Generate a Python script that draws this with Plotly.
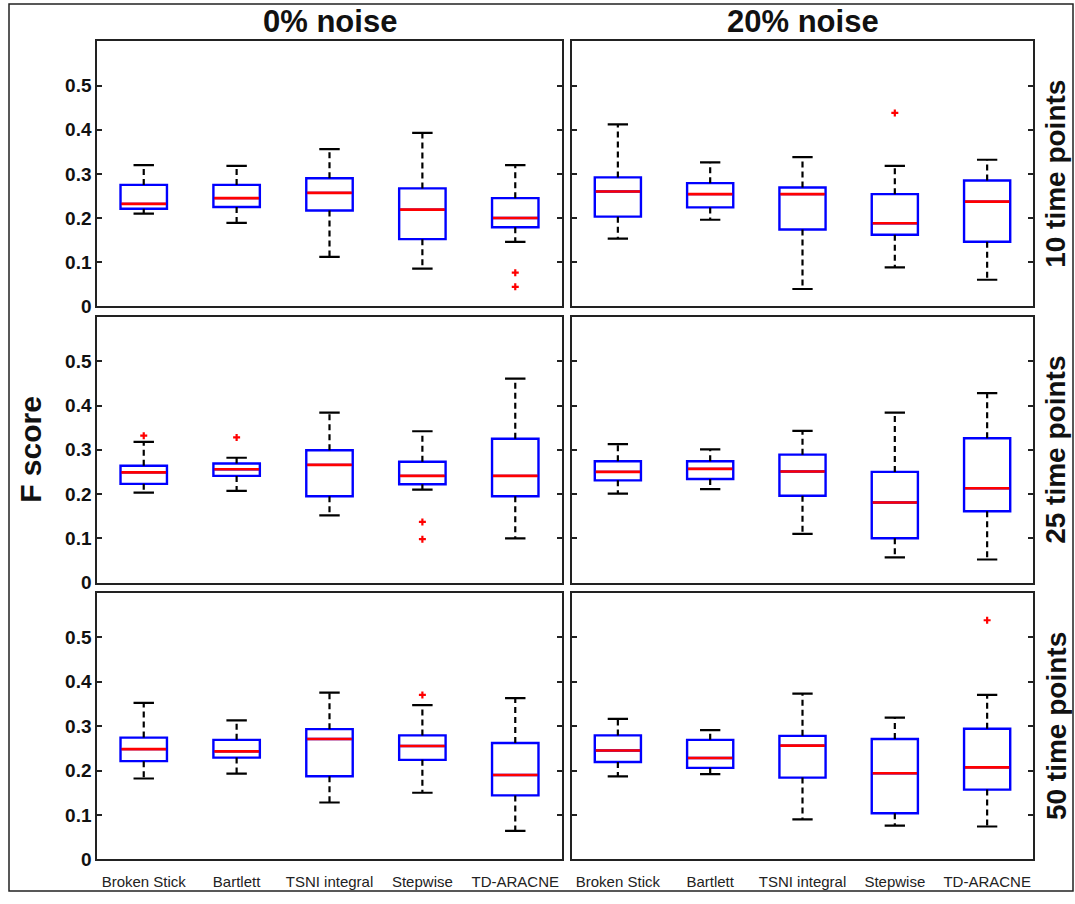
import plotly.graph_objects as go

# ---------------- data ----------------
methods = ["Broken Stick", "Bartlett", "TSNI integral", "Stepwise", "TD-ARACNE"]
noise_levels = ["0% noise", "20% noise"]
time_points = ["10 time points", "25 time points", "50 time points"]
y_ticks = [0, 0.1, 0.2, 0.3, 0.4, 0.5]
y_ticktext = ["0", "0.1", "0.2", "0.3", "0.4", "0.5"]

# 10 time points, 0% noise
p10_n0_low = [0.210, 0.189, 0.112, 0.085, 0.146]
p10_n0_q1 = [0.221, 0.225, 0.217, 0.152, 0.179]
p10_n0_med = [0.232, 0.245, 0.257, 0.219, 0.200]
p10_n0_q3 = [0.275, 0.275, 0.290, 0.267, 0.245]
p10_n0_high = [0.320, 0.318, 0.356, 0.393, 0.320]
p10_n0_out = [[], [], [], [], [0.076, 0.044]]

# 10 time points, 20% noise
p10_n20_low = [0.153, 0.196, 0.039, 0.088, 0.060]
p10_n20_q1 = [0.203, 0.224, 0.174, 0.162, 0.146]
p10_n20_med = [0.260, 0.254, 0.254, 0.188, 0.237]
p10_n20_q3 = [0.292, 0.279, 0.269, 0.254, 0.285]
p10_n20_high = [0.412, 0.326, 0.338, 0.318, 0.332]
p10_n20_out = [[], [], [], [0.438], []]

# 25 time points, 0% noise
p25_n0_low = [0.203, 0.207, 0.152, 0.210, 0.100]
p25_n0_q1 = [0.223, 0.241, 0.195, 0.222, 0.195]
p25_n0_med = [0.249, 0.256, 0.266, 0.241, 0.241]
p25_n0_q3 = [0.264, 0.269, 0.299, 0.273, 0.325]
p25_n0_high = [0.318, 0.282, 0.384, 0.342, 0.461]
p25_n0_out = [[0.332], [0.328], [], [0.137, 0.098], []]

# 25 time points, 20% noise
p25_n20_low = [0.201, 0.211, 0.110, 0.057, 0.052]
p25_n20_q1 = [0.231, 0.234, 0.196, 0.100, 0.161]
p25_n20_med = [0.250, 0.257, 0.251, 0.181, 0.213]
p25_n20_q3 = [0.274, 0.274, 0.289, 0.250, 0.326]
p25_n20_high = [0.313, 0.301, 0.343, 0.384, 0.428]
p25_n20_out = [[], [], [], [], []]

# 50 time points, 0% noise
p50_n0_low = [0.182, 0.193, 0.128, 0.150, 0.064]
p50_n0_q1 = [0.221, 0.229, 0.187, 0.224, 0.144]
p50_n0_med = [0.248, 0.243, 0.271, 0.255, 0.190]
p50_n0_q3 = [0.274, 0.269, 0.293, 0.279, 0.262]
p50_n0_high = [0.352, 0.313, 0.375, 0.347, 0.363]
p50_n0_out = [[], [], [], [0.370], []]

# 50 time points, 20% noise
p50_n20_low = [0.187, 0.192, 0.090, 0.076, 0.074]
p50_n20_q1 = [0.219, 0.206, 0.184, 0.104, 0.157]
p50_n20_med = [0.245, 0.228, 0.256, 0.194, 0.207]
p50_n20_q3 = [0.279, 0.269, 0.278, 0.271, 0.294]
p50_n20_high = [0.316, 0.291, 0.373, 0.319, 0.370]
p50_n20_out = [[], [], [], [], [0.538]]

panels = [
    (p10_n0_low, p10_n0_q1, p10_n0_med, p10_n0_q3, p10_n0_high, p10_n0_out),
    (p10_n20_low, p10_n20_q1, p10_n20_med, p10_n20_q3, p10_n20_high, p10_n20_out),
    (p25_n0_low, p25_n0_q1, p25_n0_med, p25_n0_q3, p25_n0_high, p25_n0_out),
    (p25_n20_low, p25_n20_q1, p25_n20_med, p25_n20_q3, p25_n20_high, p25_n20_out),
    (p50_n0_low, p50_n0_q1, p50_n0_med, p50_n0_q3, p50_n0_high, p50_n0_out),
    (p50_n20_low, p50_n20_q1, p50_n20_med, p50_n20_q3, p50_n20_high, p50_n20_out),
]

# ---------------- styling / layout ----------------
W, H = 1075, 904
BOX_W = 0.5
CAP_HALF = 0.11
MED_HALF = 0.24
x_domains = [[97.3 / W, 561.7 / W], [571.7 / W, 1033.3 / W]]
y_domains = [[1 - 310 / H, 1 - 42 / H], [1 - 589.7 / H, 1 - 321 / H], [1 - 870 / H, 1 - 600 / H]]
FONT = "Liberation Sans, Arial, sans-serif"

fig = go.Figure()
layout_axes = {}
pos = list(range(len(methods)))

for k, (low, q1, med, q3, high, outs) in enumerate(panels):
    row, col = divmod(k, 2)
    sfx = "" if k == 0 else str(k + 1)
    xa, ya = "x" + sfx, "y" + sfx

    # whiskers (dashed)
    wx, wy = [], []
    for i in pos:
        wx += [i, i, None, i, i, None]
        wy += [q3[i], high[i], None, q1[i], low[i], None]
    fig.add_trace(go.Scatter(x=wx, y=wy, mode="lines", xaxis=xa, yaxis=ya,
                             line=dict(color="black", width=2.2, dash="6px,4px"),
                             hoverinfo="skip", showlegend=False))
    # caps
    cx, cy = [], []
    for i in pos:
        cx += [i - CAP_HALF, i + CAP_HALF, None, i - CAP_HALF, i + CAP_HALF, None]
        cy += [high[i], high[i], None, low[i], low[i], None]
    fig.add_trace(go.Scatter(x=cx, y=cy, mode="lines", xaxis=xa, yaxis=ya,
                             line=dict(color="black", width=2.2),
                             hoverinfo="skip", showlegend=False))
    # boxes
    fig.add_trace(go.Box(x=pos, q1=q1, median=med, q3=q3, lowerfence=q1, upperfence=q3,
                         showwhiskers=False, width=BOX_W, boxpoints=False,
                         line=dict(color="#0000ff", width=2.4), fillcolor="rgba(0,0,0,0)",
                         xaxis=xa, yaxis=ya, hoverinfo="skip", showlegend=False))
    # medians
    mx, my = [], []
    for i in pos:
        mx += [i - MED_HALF, i + MED_HALF, None]
        my += [med[i], med[i], None]
    fig.add_trace(go.Scatter(x=mx, y=my, mode="lines", xaxis=xa, yaxis=ya,
                             line=dict(color="#ff0000", width=2.6),
                             hoverinfo="skip", showlegend=False))
    # outliers
    ox, oy = [], []
    for i in pos:
        for v in outs[i]:
            ox.append(i)
            oy.append(v)
    if ox:
        fig.add_trace(go.Scatter(x=ox, y=oy, mode="markers", xaxis=xa, yaxis=ya,
                                 marker=dict(symbol="cross-thin", size=5, color="#ff0000",
                                             line=dict(color="#ff0000", width=2.2)),
                                 hoverinfo="skip", showlegend=False))

    layout_axes["xaxis" + sfx] = dict(
        domain=x_domains[col], anchor=ya, range=[-0.5, len(methods) - 0.5],
        tickvals=pos, ticktext=methods, showticklabels=(row == 2),
        ticks="", showgrid=False, zeroline=False,
        showline=True, mirror=True, linecolor="#222222", linewidth=2,
        tickfont=dict(family=FONT, size=15, color="#222222"), ticklabelstandoff=8,
    )
    layout_axes["yaxis" + sfx] = dict(
        domain=y_domains[row], anchor=xa, range=[0, 0.6],
        tickvals=y_ticks, ticktext=y_ticktext, showticklabels=(col == 0),
        ticks="inside", ticklen=5, tickwidth=2, tickcolor="#222222",
        showgrid=False, zeroline=False,
        showline=True, mirror="ticks", linecolor="#222222", linewidth=2,
        tickfont=dict(family=FONT, size=19, color="#111111", weight="bold"),
    )

annotations = []
for c, name in enumerate(noise_levels):
    annotations.append(dict(text=name, xref="paper", yref="paper",
                            x=sum(x_domains[c]) / 2, y=1 - 22 / H,
                            xanchor="center", yanchor="middle", showarrow=False,
                            font=dict(family=FONT, size=31, color="#111111", weight="bold")))
for r, name in enumerate(time_points):
    annotations.append(dict(text=name, xref="paper", yref="paper",
                            x=1056 / W, y=sum(y_domains[r]) / 2, textangle=-90,
                            xanchor="center", yanchor="middle", showarrow=False,
                            font=dict(family=FONT, size=28, color="#111111", weight="bold")))
annotations.append(dict(text="F score", xref="paper", yref="paper",
                        x=31 / W, y=sum(y_domains[1]) / 2, textangle=-90,
                        xanchor="center", yanchor="middle", showarrow=False,
                        font=dict(family=FONT, size=30, color="#111111", weight="bold")))

fig.update_layout(
    width=W, height=H,
    margin=dict(l=0, r=0, t=0, b=0),
    paper_bgcolor="white", plot_bgcolor="white",
    showlegend=False,
    annotations=annotations,
    shapes=[dict(type="rect", xref="paper", yref="paper",
                 x0=9 / W, x1=1073 / W, y0=2 / H, y1=1 - 4 / H,
                 line=dict(color="#222222", width=1.5), fillcolor="rgba(0,0,0,0)")],
    **layout_axes,
)

fig.write_html("out.html")
